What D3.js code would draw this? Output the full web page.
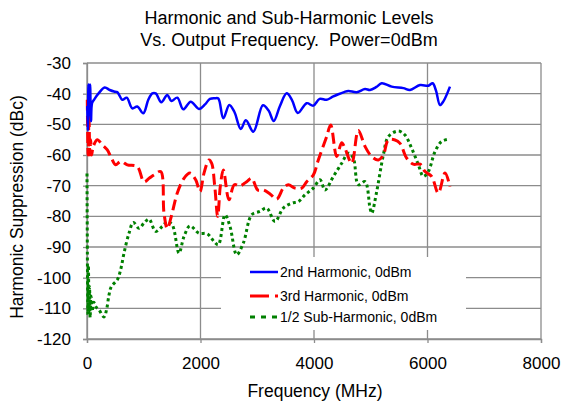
<!DOCTYPE html>
<html lang="en">
<head>
  <meta charset="UTF-8" />
  <title>Harmonic and Sub-Harmonic Levels</title>
  <script src="https://d3js.org/d3.v7.min.js"></script>
  <style>
    body {
      margin: 0;
      background: #fff;
      font-family: "Liberation Sans", Arial, sans-serif;
    }
    svg text {
      fill: #000;
    }
  </style>
</head>
<body>
  <div id="chart"></div>

  <script>
    // Data (frequency in MHz, level in dBc)
    const secondFreq = [5, 15, 25, 40, 55, 70, 90, 123, 200, 312, 400, 476, 534, 622, 700, 798, 886, 992, 1080, 1151,
      1210, 1310, 1415, 1486, 1591, 1697, 1827, 1973, 2080, 2167, 2255, 2314, 2402, 2508, 2596, 2710, 2800, 2931, 3100,
      3200, 3290, 3400, 3518, 3610, 3715, 3871, 3988, 4100, 4223, 4330, 4429, 4530, 4605, 4752, 4899, 4987, 5100, 5193,
      5369, 5575, 5692, 5868, 6015, 6091, 6150, 6220, 6280, 6396];
    const secondLevel = [-44, -52, -37, -47, -37, -49, -43, -42, -40, -38, -38.8, -39.3, -39.5, -42, -41.3, -44.8, -44.2,
      -46.4, -42, -39.9, -39.9, -42.8, -40.4, -42.4, -41.3, -45.1, -42.6, -45, -43.5, -41.7, -41.5, -41.6, -48, -43.7,
      -45.9, -51.5, -48.7, -52.4, -43.8, -45.5, -48.9, -44, -39.9, -42, -46.3, -43.1, -43.9, -41.7, -42, -41, -40.2,
      -39.5, -39.1, -39.5, -38.5, -38.8, -37.8, -36.6, -37.7, -38.2, -38.8, -37.2, -37.4, -36.6, -39, -43.7, -42.5, -37.7];

    const thirdFreq = [5, 20, 35, 50, 65, 80, 111, 181, 270, 358, 430, 505, 593, 710, 886, 1004, 1100, 1180, 1298, 1357,
      1415, 1486, 1591, 1709, 1815, 1915, 1991, 2062, 2150, 2197, 2250, 2303, 2350, 2402, 2502, 2596, 2696, 2814, 2902,
      3008, 3107, 3225, 3342, 3459, 3547, 3665, 3783, 3871, 3988, 4076, 4223, 4294, 4400, 4488, 4546, 4664, 4781, 4899,
      5017, 5134, 5222, 5310, 5427, 5516, 5633, 5751, 5868, 5956, 6073, 6190, 6308, 6396];
    const thirdLevel = [-42, -60, -47, -60, -55, -60, -57.2, -55, -56.7, -58.3, -61, -63.2, -62.1, -63.2, -63.8, -68.7,
      -67.5, -66.5, -65.4, -79, -84, -80, -72.4, -67.6, -65.9, -68.1, -71.9, -65.9, -61.6, -62.7, -70, -80, -70, -64.9,
      -74.6, -69.7, -70.1, -68.7, -67.6, -71.4, -71.4, -72.7, -74.4, -70.8, -69.7, -70.8, -70.8, -68.7, -66.5, -61.6,
      -54, -50.2, -60.5, -56, -57.8, -62.7, -52, -57.2, -60.5, -61.6, -60, -55.1, -55.1, -56.2, -61, -63, -63, -65.4,
      -67, -72.4, -65.9, -70.3];

    const subFreq = [0, 8, 15, 25, 35, 45, 55, 70, 90, 120, 153, 211, 300, 347, 388, 429, 534, 593, 652, 740, 816, 916,
      1004, 1092, 1210, 1327, 1415, 1503, 1621, 1709, 1815, 1973, 2120, 2238, 2314, 2432, 2520, 2638, 2755, 2902, 3048,
      3166, 3313, 3459, 3607, 3724, 3841, 3988, 4106, 4194, 4341, 4488, 4605, 4693, 4781, 4899, 4987, 5017, 5105, 5222,
      5310, 5486, 5603, 5721, 5839, 5927, 6015, 6132, 6249, 6396];
    const subLevel = [-66, -97, -112, -96, -111, -103, -113, -106, -111, -108, -109.4, -110.5, -112.8, -110.2, -105.6,
      -102.9, -100.7, -97.4, -92, -85.5, -82, -83.9, -82.2, -80.9, -84.9, -83.3, -81.7, -82.8, -92, -86.6, -83.1, -85.5,
      -85.7, -88.2, -89.3, -79.5, -83.3, -92.5, -88.7, -79.5, -78.4, -77.3, -81.7, -77.3, -75.7, -75.2, -73, -70.8,
      -68.1, -71.4, -67, -62.7, -59.4, -61, -69.7, -68.7, -77.3, -79, -71.9, -60, -54, -52.2, -53.5, -57.8, -63.2, -67,
      -65.4, -58.9, -55.6, -54.8];

    const seriesNames = ["2nd Harmonic, 0dBm", "3rd Harmonic, 0dBm", "1/2 Sub-Harmonic, 0dBm"];
    const xTicks = [0, 2000, 4000, 6000, 8000];
    const yTicks = [-30, -40, -50, -60, -70, -80, -90, -100, -110, -120];

    const width = 563;
    const height = 408;
    const plotLeft = 87, plotRight = 541, plotTop = 63, plotBottom = 339;
    const fontFamily = "Liberation Sans, Arial, sans-serif";

    const svg = d3.select("#chart")
      .append("svg")
      .attr("width", width)
      .attr("height", height)
      .attr("font-family", fontFamily);

    const x = d3.scaleLinear().domain([0, 8000]).range([plotLeft, plotRight]);
    const y = d3.scaleLinear().domain([-120, -30]).range([plotBottom, plotTop]);

    // grid
    svg.append("g")
      .selectAll("line")
      .data(yTicks)
      .enter()
      .append("line")
      .attr("x1", plotLeft).attr("x2", plotRight)
      .attr("y1", d => y(d)).attr("y2", d => y(d))
      .attr("stroke", "#8c8c8c")
      .attr("stroke-width", 1.3);

    svg.append("g")
      .selectAll("line")
      .data(xTicks)
      .enter()
      .append("line")
      .attr("x1", d => x(d)).attr("x2", d => x(d))
      .attr("y1", plotTop).attr("y2", plotBottom)
      .attr("stroke", "#8c8c8c")
      .attr("stroke-width", 1.3);

    // axes (plain hyphen minus, no thousands separator)
    const yAxis = d3.axisLeft(y).tickValues(yTicks).tickSize(4).tickPadding(12).tickFormat(d => String(d));
    const xAxis = d3.axisBottom(x).tickValues(xTicks).tickSize(4).tickPadding(14).tickFormat(d => String(d));

    svg.append("g")
      .attr("transform", `translate(${plotLeft},0)`)
      .call(yAxis)
      .call(g => g.selectAll("line, path").attr("stroke", "#8c8c8c").attr("stroke-width", 1.3))
      .call(g => g.selectAll("text").attr("font-size", 17).attr("font-family", fontFamily));

    svg.append("g")
      .attr("transform", `translate(0,${plotBottom})`)
      .call(xAxis)
      .call(g => g.selectAll("line, path").attr("stroke", "#8c8c8c").attr("stroke-width", 1.3))
      .call(g => g.selectAll("text").attr("font-size", 17).attr("font-family", fontFamily));

    // curves
    const line = d3.line()
      .x(d => x(d[0]))
      .y(d => y(d[1]))
      .curve(d3.curveCatmullRom.alpha(0.5));

    const series = [
      { pts: d3.zip(subFreq, subLevel), color: "#008000", dash: "3,3", width: 3 },
      { pts: d3.zip(thirdFreq, thirdLevel), color: "#ff0000", dash: "11,5", width: 3 },
      { pts: d3.zip(secondFreq, secondLevel), color: "#0000ff", dash: null, width: 2.5 }
    ];

    svg.append("g")
      .selectAll("path")
      .data(series)
      .enter()
      .append("path")
      .attr("d", d => line(d.pts))
      .attr("fill", "none")
      .attr("stroke", d => d.color)
      .attr("stroke-width", d => d.width)
      .attr("stroke-dasharray", d => d.dash);

    // legend
    const legend = svg.append("g");
    legend.append("rect")
      .attr("x", 221).attr("y", 257)
      .attr("width", 245).attr("height", 73)
      .attr("fill", "#fff");

    const legendStyles = [
      { color: "#0000ff", dash: null, width: 2.5 },
      { color: "#ff0000", dash: "19,6", width: 3 },
      { color: "#008000", dash: "5,6", width: 3 }
    ];
    const legendY = [272, 296, 317];

    seriesNames.forEach((name, i) => {
      legend.append("line")
        .attr("x1", 250).attr("x2", 278)
        .attr("y1", legendY[i]).attr("y2", legendY[i])
        .attr("stroke", legendStyles[i].color)
        .attr("stroke-width", legendStyles[i].width)
        .attr("stroke-dasharray", legendStyles[i].dash);
      legend.append("text")
        .attr("x", 280)
        .attr("y", legendY[i])
        .attr("dy", "0.35em")
        .attr("font-size", 14)
        .text(name);
    });

    // titles
    svg.append("text")
      .attr("x", 289).attr("y", 24)
      .attr("text-anchor", "middle")
      .attr("font-size", 18)
      .text("Harmonic and Sub-Harmonic Levels");
    svg.append("text")
      .attr("x", 289).attr("y", 46)
      .attr("text-anchor", "middle")
      .attr("font-size", 18)
      .style("white-space", "pre")
      .text("Vs. Output Frequency.  Power=0dBm");

    svg.append("text")
      .attr("x", 315).attr("y", 397)
      .attr("text-anchor", "middle")
      .attr("font-size", 17.5)
      .text("Frequency (MHz)");

    svg.append("text")
      .attr("transform", "translate(23,207) rotate(-90)")
      .attr("text-anchor", "middle")
      .attr("font-size", 17.5)
      .text("Harmonic Suppression (dBc)");
  </script>
</body>
</html>
